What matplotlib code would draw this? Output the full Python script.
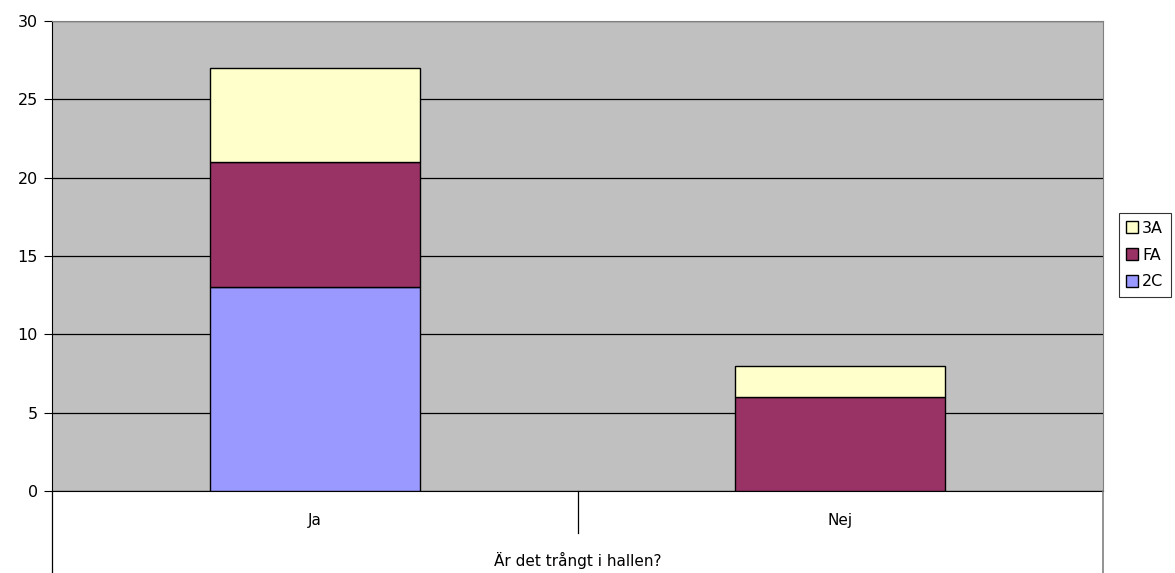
import matplotlib
matplotlib.use("Agg")
import matplotlib.pyplot as plt
import numpy as np

categories = ["Ja", "Nej"]
series_names = ["2C", "FA", "3A"]
v_2C = [13, 0]
v_FA = [8, 6]
v_3A = [6, 2]
colors = {"2C": "#9999FF", "FA": "#993366", "3A": "#FFFFCC"}
yticks = [0, 5, 10, 15, 20, 25, 30]
axis_title = "Är det trångt i hallen?"

W, H = 1175, 573
fig = plt.figure(figsize=(W / 100, H / 100), dpi=100)
L, R, T, B = 52, 1103, 21, 491
ax = fig.add_axes([L / W, 1 - B / H, (R - L) / W, (B - T) / H])
ax.set_facecolor("#C0C0C0")

x = np.arange(len(categories))
bottom = np.zeros(len(categories))
handles = {}
for name, vals in zip(series_names, [v_2C, v_FA, v_3A]):
    vals = np.array(vals, dtype=float)
    h = ax.bar(x, vals, 0.4, bottom=bottom, color=colors[name],
               edgecolor="black", linewidth=1.0, zorder=3)
    handles[name] = h
    bottom += vals

ax.set_xlim(-0.5, 1.5)
ax.set_ylim(0, 30)
ax.set_yticks(yticks)
ax.yaxis.grid(True, color="black", linewidth=0.9, zorder=1)
ax.set_axisbelow(True)
ax.tick_params(axis="y", length=6, width=0.8, labelsize=11.5, pad=4, direction="out")
ax.set_xticks([])
for s in ["top", "right"]:
    ax.spines[s].set_color("#808080")
for s in ["left", "bottom"]:
    ax.spines[s].set_color("black")

# category table below the axis
def fy(py):
    return 1 - py / H
def fx(px):
    return px / W
fig.add_artist(plt.Line2D([fx(L), fx(L)], [fy(B), fy(H)], color="black", linewidth=0.9))
fig.add_artist(plt.Line2D([fx(R), fx(R)], [fy(B), fy(H)], color="#808080", linewidth=1.2))
fig.add_artist(plt.Line2D([fx((L + R) / 2), fx((L + R) / 2)], [fy(B), fy(533)], color="black", linewidth=0.9))
for i, c in enumerate(categories):
    cx = L + (R - L) * (i + 0.5) / len(categories)
    fig.text(fx(cx), fy(521), c, ha="center", va="center", fontsize=11)
fig.text(fx((L + R) / 2), fy(560), axis_title, ha="center", va="center", fontsize=11)

leg = ax.legend([handles[n] for n in ["3A", "FA", "2C"]], ["3A", "FA", "2C"],
                loc="center left", bbox_to_anchor=(1119 / W, 1 - 255 / H),
                bbox_transform=fig.transFigure, fontsize=11.5, frameon=True,
                fancybox=False, edgecolor="black", handlelength=0.75,
                handleheight=0.75, handletextpad=0.25, borderpad=0.45,
                labelspacing=0.75, borderaxespad=0)
leg.get_frame().set_linewidth(0.8)

fig.savefig("out.png", dpi=100)
